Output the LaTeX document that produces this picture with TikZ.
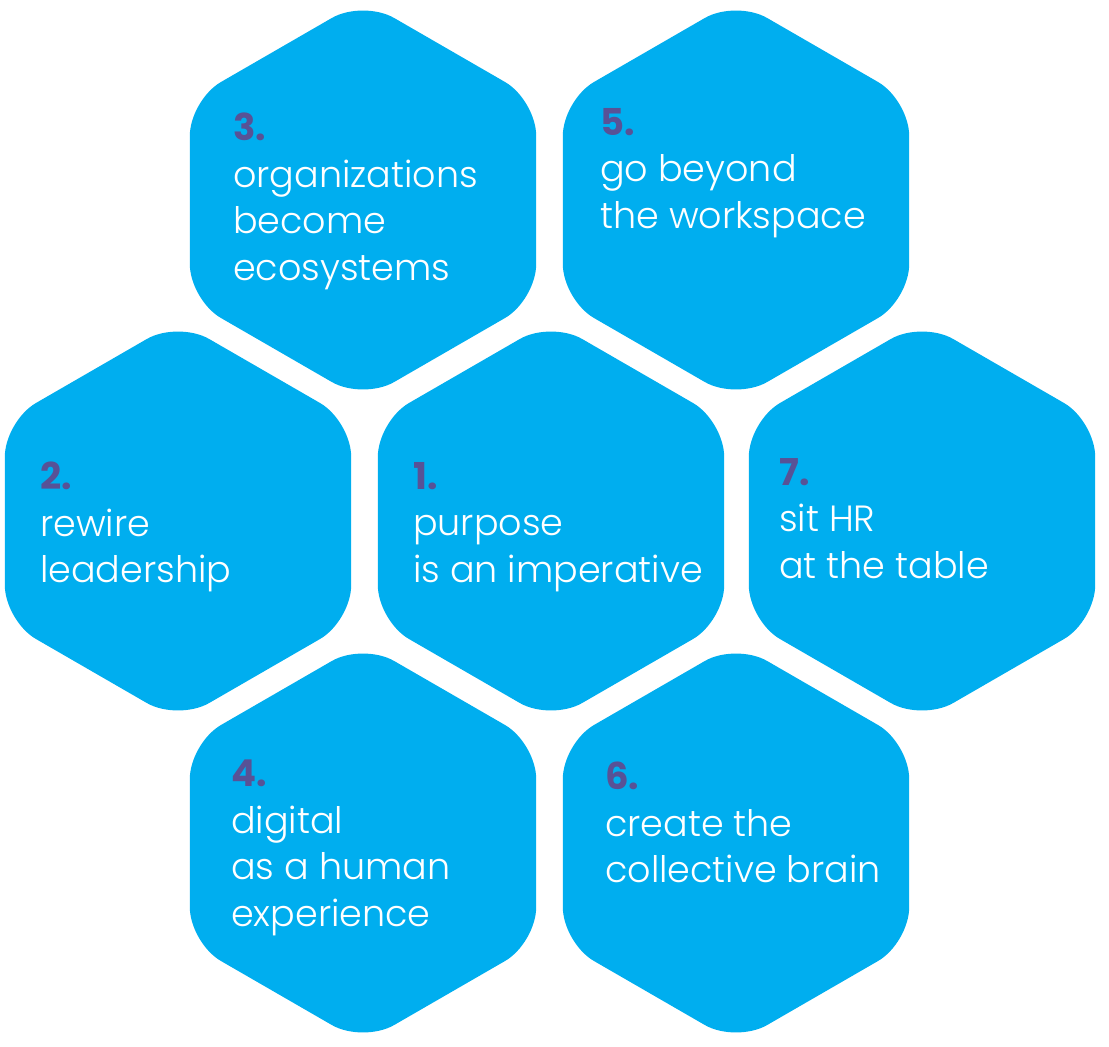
\documentclass[tikz,border=0pt]{standalone}
\usepackage{fontspec}
\setmainfont{Poppins}[UprightFont={* Light},BoldFont={* Bold}]
\usetikzlibrary{shapes.geometric,positioning}
\definecolor{hexblue}{RGB}{0,174,239}
\definecolor{numpurple}{RGB}{88,82,150}
\newcommand{\hexnum}[1]{{\fontsize{37}{46}\selectfont\bfseries\color{numpurple}#1}}

\begin{document}
\begin{tikzpicture}[x=1pt,y=-1pt,
	hexa/.style={regular polygon,regular polygon sides=6,shape border rotate=30,minimum size=400pt,inner sep=0pt,fill=hexblue,rounded corners=36pt},
	lbl/.style={anchor=north west,inner sep=0pt,align=left,text=white,font=\fontsize{36.5}{46.5}\selectfont}]
\useasboundingbox (0,0) rectangle (1109,1047);
% honeycomb
\node [hexa] (h3) at (363,200) {};
\node [hexa] (h5) at (736,200) {};
\node [hexa] (h2) at (178,521) {};
\node [hexa] (h1) at (551,521) {};
\node [hexa] (h7) at (922,521) {};
\node [hexa] (h4) at (363,843) {};
\node [hexa] (h6) at (736,843) {};
% labels
\node [lbl] (t3) at (233,113) {\hexnum{3.}\\organizations\\become\\ecosystems};
\node [lbl] (t5) at (600,108) {\hexnum{5.}\\go beyond\\the workspace};
\node [lbl] (t2) at (40,462) {\hexnum{2.}\\rewire\\leadership};
\node [lbl] (t1) at (413,462) {\hexnum{1.}\\purpose\\is an imperative};
\node [lbl] (t7) at (779,458) {\hexnum{7.}\\sit HR\\at the table};
\node [lbl] (t4) at (231,760) {\hexnum{4.}\\digital\\as a human\\experience};
\node [lbl] (t6) at (605,762) {\hexnum{6.}\\create the\\collective brain};
\end{tikzpicture}
\end{document}
